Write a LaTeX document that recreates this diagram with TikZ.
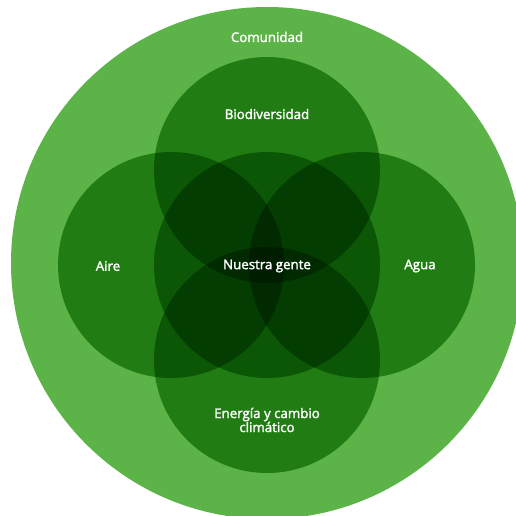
\documentclass[tikz,border=0pt]{standalone}
\usepackage{fontspec}
\setmainfont{Open Sans}[FakeBold=2]
\definecolor{lgreen}{RGB}{92,179,71}
\tikzset{
  ring/.style={circle, fill=lgreen, draw=none, minimum size=226pt, inner sep=0pt},
  lab/.style={text=white, font=\fontsize{13.3}{14}\selectfont, align=center, inner sep=0pt}
}
\begin{document}
\begin{tikzpicture}[x=1pt,y=-1pt]
\useasboundingbox (0,0) rectangle (516,516);
\clip (0,0) rectangle (516,516);
\node[circle, fill=lgreen, minimum size=512pt, inner sep=0pt] (com) at (267,263) {};
\begin{scope}[blend mode=multiply]
  \node[ring] (bio) at (267,170) {};
  \node[ring] (aire) at (171,265) {};
  \node[ring] (agua) at (362,265) {};
  \node[ring] (ener) at (267,360) {};
  \node[ring] (gente) at (267,265) {};
\end{scope}
\node[lab] (tcom) at (267,37) {Comunidad};
\node[lab] (tbio) at (267,114) {Biodiversidad};
\node[lab] (taire) at (108,266) {Aire};
\node[lab] (tagua) at (420,266) {Agua};
\node[lab] (tgente) at (267,266) {Nuestra gente};
\node[lab] (tener) at (267,420) {Energía y cambio\\climático};
\end{tikzpicture}
\end{document}
